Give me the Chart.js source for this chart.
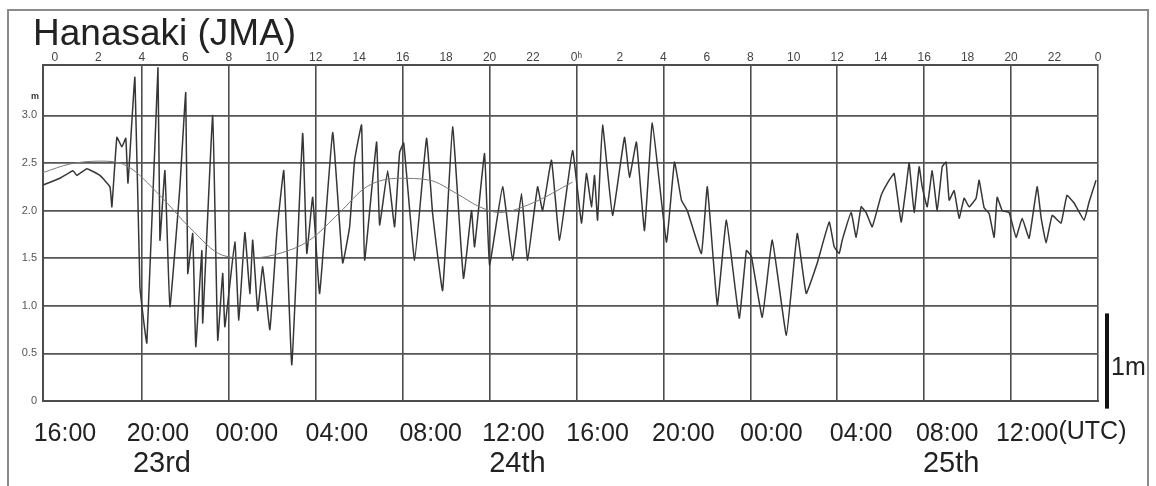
<!DOCTYPE html>
<html>
<head>
<meta charset="utf-8">
<script src="https://cdn.jsdelivr.net/npm/chart.js@4.4.1/dist/chart.umd.min.js"></script>
<style>
  html, body { margin: 0; padding: 0; background: #ffffff; }
  #wrap { width: 1156px; height: 486px; position: relative; }
</style>
</head>
<body>
<div id="wrap"><canvas id="c"></canvas></div>
<script>
// ---- Data (hours after 0:00 local time on the record; sea level in m) ----
const OBS_HOURS = [
  -0.55, 0.23, 0.83, 1.01, 1.47, 2.07, 2.53, 2.62, 2.85, 3.08, 3.26, 3.36,
  3.68, 3.91, 4.23, 4.74, 4.83, 5.06, 5.29, 5.75, 6.02, 6.11, 6.34, 6.48,
  6.76, 6.80, 7.26, 7.49, 7.72, 7.82, 8.28, 8.46, 8.74, 8.97, 9.10, 9.33,
  9.56, 9.89, 10.21, 10.53, 10.90, 11.40, 11.59, 11.86, 12.18, 12.78, 13.24, 13.56,
  13.79, 14.11, 14.25, 14.80, 14.94, 15.31, 15.63, 15.86, 16.05, 16.55, 17.10, 17.38,
  17.84, 18.30, 18.80, 19.17, 19.31, 19.77, 20.00, 20.60, 21.06, 21.47, 21.75, 22.21,
  22.44, 22.85, 23.22, 23.82, 24.23, 24.46, 24.69, 24.83, 24.97, 25.20, 25.66, 26.21,
  26.44, 26.76, 27.13, 27.49, 28.14, 28.51, 28.83, 29.10, 29.75, 30.02, 30.48, 30.90,
  31.49, 31.82, 32.05, 32.55, 33.01, 33.66, 34.16, 34.57, 35.08,
  35.63, 35.86, 36.09, 36.23, 36.64, 36.87, 37.10, 37.33, 37.61, 38.02, 38.39, 38.62,
  38.94, 39.17, 39.31, 39.54, 39.77, 39.91, 40.14, 40.37, 40.60, 40.83, 41.01, 41.15,
  41.38, 41.61, 41.84, 42.07, 42.39, 42.53, 42.76, 42.99, 43.22, 43.36, 43.59, 43.91,
  44.23, 44.51, 44.83, 45.20, 45.38, 45.61, 45.89, 46.30, 46.57, 46.90, 47.36, 47.59, 47.91
];
const OBS_LEVEL = [
  2.27, 2.34, 2.42, 2.37, 2.44, 2.37, 2.25, 2.04, 2.77, 2.67, 2.76, 2.29,
  3.40, 1.20, 0.61, 3.50, 1.69, 2.42, 0.99, 2.25, 3.24, 1.34, 1.76, 0.57,
  1.58, 0.82, 3.00, 0.64, 1.34, 0.78, 1.67, 0.85, 1.77, 1.13, 1.69, 0.95,
  1.41, 0.75, 1.76, 2.42, 0.38, 2.81, 1.55, 2.14, 1.13, 2.82, 1.45, 1.83,
  2.53, 2.90, 1.48, 2.72, 1.85, 2.42, 1.83, 2.61, 2.71, 1.48, 2.76, 1.97,
  1.16, 2.88, 1.29, 2.00, 1.62, 2.60, 1.43, 2.25, 1.48, 2.18, 1.48, 2.25,
  2.00, 2.53, 1.69, 2.63, 1.87, 2.39, 2.04, 2.37, 1.90, 2.90, 1.95, 2.77,
  2.35, 2.72, 1.79, 2.92, 1.67, 2.51, 2.11, 2.00, 1.55, 2.25, 1.01, 1.90,
  0.87, 1.58, 1.52, 0.88, 1.69, 0.69, 1.76, 1.13, 1.45,
  1.88, 1.62, 1.55, 1.69, 1.98, 1.72, 2.04, 1.98, 1.83, 2.16, 2.32, 2.39,
  1.88, 2.25, 2.50, 1.98, 2.46, 2.25, 2.04, 2.42, 2.00, 2.46, 2.51, 2.11,
  2.21, 1.92, 2.13, 2.04, 2.13, 2.32, 2.03, 1.97, 1.72, 2.14, 2.00, 1.98,
  1.72, 1.92, 1.71, 2.25, 1.93, 1.66, 1.95, 1.87, 2.16, 2.08, 1.90, 2.09, 2.32
];
const PRED_HOURS = [-0.55, 0.69, 2.07, 3.31, 4.83, 6.21, 7.72, 8.97, 10.48, 11.72, 13.10, 14.34, 15.86, 17.24, 18.48, 19.54, 20.46, 21.98, 23.82];
const PRED_LEVEL = [2.40, 2.49, 2.52, 2.47, 2.16, 1.82, 1.53, 1.50, 1.56, 1.69, 1.98, 2.25, 2.34, 2.32, 2.18, 2.04, 1.98, 2.08, 2.30];

// top axis (local time) ticks and labels
const JST_TICK_HOURS = [0, 2, 4, 6, 8, 10, 12, 14, 16, 18, 20, 22, 24, 26, 28, 30, 32, 34, 36, 38, 40, 42, 44, 46, 48];
const JST_LABELS = ["0", "2", "4", "6", "8", "10", "12", "14", "16", "18", "20", "22", "0ʰ", "2", "4", "6", "8", "10", "12", "14", "16", "18", "20", "22", "0"];
// bottom axis (UTC) ticks and labels, as placed on the original figure
const UTC_LABEL_HOURS = [0.46, 4.74, 8.83, 12.97, 17.29, 21.10, 24.97, 28.92, 32.97, 37.10, 41.06, 44.74];
const UTC_LABELS = ["16:00", "20:00", "00:00", "04:00", "08:00", "12:00", "16:00", "20:00", "00:00", "04:00", "08:00", "12:00"];
const DAY_LABELS = ["23rd", "24th", "25th"];
const DAY_LABEL_TICK = [1, 5, 10];
// left axis (m)
const LEVEL_TICKS = [0, 0.5, 1.0, 1.5, 2.0, 2.5, 3.0];
const LEVEL_LABELS = ["0", "0.5", "1.0", "1.5", "2.0", "2.5", "3.0"];
const X_MIN = -0.55, X_MAX = 48, Y_MIN = 0, Y_MAX = 3.53;

const TITLE = "Hanasaki (JMA)";
const GRID = "#4d4d4d";
const FONT = "'Liberation Sans', Arial, sans-serif";

const obsData = OBS_HOURS.map((h, i) => ({ x: h, y: OBS_LEVEL[i] }));
const predData = PRED_HOURS.map((h, i) => ({ x: h, y: PRED_LEVEL[i] }));

const decor = {
  id: 'decor',
  beforeDraw(chart) {
    const ctx = chart.ctx;
    ctx.save();
    ctx.fillStyle = '#ffffff';
    ctx.fillRect(0, 0, chart.width, chart.height);
    ctx.strokeStyle = '#8a8a8a';
    ctx.lineWidth = 2;
    ctx.beginPath();
    ctx.moveTo(8, 486); ctx.lineTo(8, 10); ctx.lineTo(1148, 10); ctx.lineTo(1148, 486);
    ctx.stroke();
    ctx.restore();
  },
  afterDraw(chart) {
    const ctx = chart.ctx;
    const xs = chart.scales.x, ys = chart.scales.y;
    ctx.save();
    // title
    ctx.fillStyle = '#222';
    ctx.font = "37px " + FONT;
    ctx.textAlign = 'left';
    ctx.textBaseline = 'alphabetic';
    ctx.fillText(TITLE, 33, 45);
    // unit mark near left axis
    ctx.font = "bold 9px " + FONT;
    ctx.fillStyle = '#333';
    ctx.textAlign = 'center';
    ctx.textBaseline = 'middle';
    ctx.fillText('m', 35, 97);
    // (UTC) after last bottom label
    ctx.font = "25px " + FONT;
    ctx.fillStyle = '#222';
    const lastX = xs.getPixelForValue(UTC_LABEL_HOURS[UTC_LABEL_HOURS.length - 1]);
    const w = ctx.measureText(UTC_LABELS[UTC_LABELS.length - 1]).width;
    ctx.textAlign = 'left';
    ctx.textBaseline = 'middle';
    ctx.fillText('(UTC)', lastX + w / 2, 432);
    // day labels
    ctx.font = "29px " + FONT;
    ctx.textAlign = 'center';
    DAY_LABELS.forEach((d, i) => {
      const px = xs.getPixelForValue(UTC_LABEL_HOURS[DAY_LABEL_TICK[i]]);
      ctx.fillText(d, px + 4, 464);
    });
    // 1 m scale bar
    const oneM = ys.getPixelForValue(0) - ys.getPixelForValue(1);
    const top = ys.getPixelForValue(0.92);
    ctx.fillStyle = '#111';
    ctx.fillRect(chart.chartArea.right + 7, top, 4, oneM);
    ctx.font = "25px " + FONT;
    ctx.textAlign = 'left';
    ctx.textBaseline = 'middle';
    ctx.fillStyle = '#222';
    ctx.fillText('1m', chart.chartArea.right + 13, top + oneM / 2 + 7);
    ctx.restore();
  }
};

new Chart(document.getElementById('c'), {
  type: 'line',
  data: {
    datasets: [
      {
        label: 'predicted',
        data: predData,
        xAxisID: 'x', yAxisID: 'y',
        borderColor: '#7a7a7a',
        borderWidth: 1,
        pointRadius: 0,
        cubicInterpolationMode: 'monotone',
        fill: false
      },
      {
        label: 'observed',
        data: obsData,
        xAxisID: 'x', yAxisID: 'y',
        borderColor: '#363636',
        borderWidth: 1.5,
        pointRadius: 0,
        tension: 0.1,
        fill: false
      }
    ]
  },
  options: {
    responsive: true,
    maintainAspectRatio: false,
    animation: false,
    layout: { padding: { left: 0, right: 58, top: 0, bottom: 0 } },
    plugins: { legend: { display: false }, tooltip: { enabled: false }, title: { display: false } },
    scales: {
      x: {
        type: 'linear', position: 'bottom', min: X_MIN, max: X_MAX,
        afterBuildTicks: s => { s.ticks = UTC_LABEL_HOURS.map(v => ({ value: v })); },
        afterFit: s => { s.height = 85; },
        grid: { display: false },
        border: { display: true, color: GRID, width: 2 },
        ticks: {
          autoSkip: false, maxRotation: 0, minRotation: 0, padding: 10,
          color: '#222', font: { family: FONT, size: 25 },
          callback: (v, i) => UTC_LABELS[i]
        }
      },
      xTop: {
        type: 'linear', position: 'top', min: X_MIN, max: X_MAX,
        afterBuildTicks: s => { s.ticks = JST_TICK_HOURS.map(v => ({ value: v })); },
        afterFit: s => { s.height = 65; },
        grid: {
          drawTicks: false, lineWidth: 1.6,
          color: c => (c.tick && c.tick.value > 0 && c.tick.value % 4 === 0) ? GRID : 'rgba(0,0,0,0)'
        },
        border: { display: true, color: GRID, width: 2 },
        ticks: {
          autoSkip: false, maxRotation: 0, minRotation: 0, padding: 0,
          color: '#444', font: { family: FONT, size: 12 },
          callback: (v, i) => JST_LABELS[i]
        }
      },
      y: {
        type: 'linear', position: 'left', min: Y_MIN, max: Y_MAX,
        afterBuildTicks: s => { s.ticks = LEVEL_TICKS.map(v => ({ value: v })); },
        afterFit: s => { s.width = 43; },
        grid: { drawTicks: false, color: '#555', lineWidth: 1.8 },
        border: { display: true, color: GRID, width: 2 },
        ticks: {
          padding: 6, color: '#555', font: { family: FONT, size: 11 },
          callback: (v, i) => LEVEL_LABELS[i]
        }
      }
    }
  },
  plugins: [decor]
});
</script>
</body>
</html>
